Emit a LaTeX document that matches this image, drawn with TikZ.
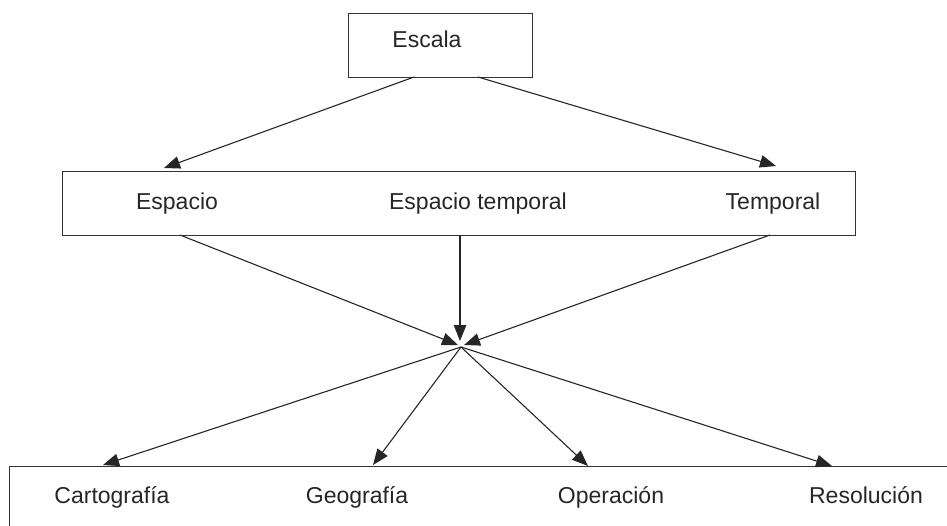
\documentclass[tikz,border=0pt]{standalone}
\usepackage{fontspec}
\setmainfont{Liberation Sans}
\usetikzlibrary{arrows.meta}
\begin{document}
\begin{tikzpicture}[x=1pt,y=-1pt,
  box/.style={draw=black!80,line width=1.3pt,inner sep=0pt,anchor=north west},
  lbl/.style={font=\fontsize{23}{27}\selectfont,text=black!85,inner sep=0pt,anchor=base},
  conn/.style={draw=black!85,line width=1.1pt,-{Triangle[length=16pt,width=12.5pt]}},
  plain/.style={draw=black!85,line width=1.1pt}]
\useasboundingbox (0,0) rectangle (947,525);
\clip (0,0) rectangle (947,525);
% boxes
\node[box,minimum width=184pt,minimum height=64pt] (top) at (348,13) {};
\node[box,minimum width=793pt,minimum height=64pt] (mid) at (62,171) {};
\node[box,minimum width=1000pt,minimum height=100pt] (bot) at (9,466) {};
% labels
\node[lbl] (escala) at (427,47) {Escala};
\node[lbl] (espacio) at (177,209) {Espacio};
\node[lbl] (esptemp) at (478,209) {Espacio temporal};
\node[lbl] (temporal) at (773,209) {Temporal};
\node[lbl] (carto) at (112,503) {Cartografía};
\node[lbl] (geo) at (357,503) {Geografía};
\node[lbl] (oper) at (611,503) {Operación};
\node[lbl] (reso) at (866,503) {Resolución};
% connector endpoints
\coordinate (t1) at (414,77);
\coordinate (t2) at (478,77);
\coordinate (m1in) at (164,168);
\coordinate (m2in) at (776,166);
\coordinate (m1out) at (180,235);
\coordinate (m2out) at (460,235);
\coordinate (m3out) at (770,235);
\coordinate (c) at (461,347);
\coordinate (cl) at (458,345);
\coordinate (cv) at (460,341);
\coordinate (cr) at (464,345);
\coordinate (b1) at (103,465);
\coordinate (b2) at (373,465);
\coordinate (b3) at (588,466);
\coordinate (b4) at (832,466);
% connectors
\draw[conn] (t1) -- (m1in);
\draw[conn] (t2) -- (m2in);
\draw[conn] (m1out) -- (cl);
\draw[conn] (m2out) -- (cv);
\draw[conn] (m3out) -- (cr);
\draw[conn] (c) -- (b1);
\draw[conn] (c) -- (b2);
\draw[conn] (c) -- (b3);
\draw[conn] (c) -- (b4);
\end{tikzpicture}
\end{document}
